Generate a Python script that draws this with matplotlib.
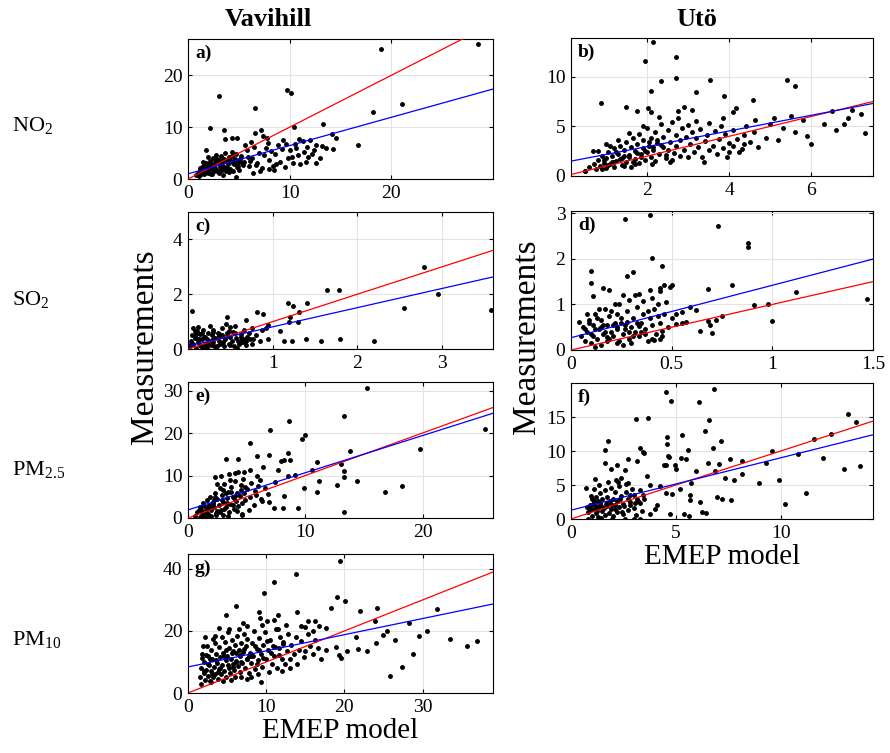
import numpy as np
import matplotlib
matplotlib.use('Agg')
import matplotlib.pyplot as plt

plt.rcParams['font.family'] = ['Liberation Serif', 'DejaVu Serif']
plt.rcParams['mathtext.default'] = 'regular'
plt.rcParams['xtick.direction'] = 'in'
plt.rcParams['ytick.direction'] = 'in'
plt.rcParams['xtick.top'] = True
plt.rcParams['ytick.right'] = True

# ---------------- data (EMEP model vs measurements) ----------------
# a) NO2 Vavihill
a_x = [3.0, 6.6, 9.7, 10.1, 2.2, 3.5, 7.2, 6.6, 10.4, 13.3, 18.2, 14.2, 16.7, 14.6, 3.6, 4.3, 4.8, 7.4, 7.8,
       9.3, 10.9, 1.8, 10.5, 11.3, 12.0, 12.6, 12.6, 11.6, 11.8, 13.6, 14.3, 4.7, 8.0, 8.7, 10.2, 19.0, 28.5, 21.0,
       5.2, 5.5, 5.8, 6.0, 6.3, 6.5, 6.8, 7.0, 7.3, 7.5, 7.7, 8.0, 8.2, 8.4, 8.6, 8.9, 9.0, 9.2, 9.5, 9.8,
       10.0, 10.3, 10.6, 10.8, 11.0, 11.4, 11.7, 12.2, 12.4, 13.0, 13.2, 9.6, 7.9, 6.2, 5.6, 8.5, 7.1, 6.4,
       0.8, 1.0, 1.1, 1.2, 1.3, 1.4, 1.5, 1.6, 1.7, 1.8, 1.9, 2.0, 2.1, 2.2, 2.3, 2.4, 2.5, 2.6, 2.7, 2.8,
       2.9, 3.0, 3.1, 3.2, 3.3, 3.4, 3.5, 3.6, 3.7, 3.8, 3.9, 4.0, 4.1, 4.2, 4.3, 4.4, 4.5, 4.6, 4.7, 4.8,
       4.9, 5.0, 1.5, 2.0, 2.8, 3.4, 2.4, 1.9, 3.0, 2.2, 3.8, 4.4, 1.3, 2.6, 3.2, 4.0, 2.0, 3.5, 1.6, 2.9,
       1.2, 1.7, 2.3, 2.7, 3.3, 3.9, 4.5, 5.1, 5.4, 5.9, 1.4, 1.9, 2.5, 3.1, 3.7, 4.3, 4.9, 5.3, 6.1, 6.7]
a_y = [16.0, 13.7, 17.1, 16.5, 9.8, 9.4, 9.4, 8.8, 10.1, 10.6, 12.9, 8.6, 6.6, 7.9, 7.8, 8.0, 8.0, 8.3, 8.0,
       7.6, 7.8, 5.5, 6.7, 7.3, 7.6, 6.5, 3.1, 3.3, 4.2, 5.9, 5.8, 0.4, 2.0, 2.9, 4.3, 25.0, 26.0, 14.5,
       4.5, 3.2, 5.6, 2.5, 4.0, 6.2, 3.0, 5.0, 2.2, 4.6, 6.0, 3.6, 5.4, 2.6, 4.8, 6.5, 3.2, 5.8, 2.4, 4.0,
       5.5, 3.0, 6.0, 4.6, 2.8, 5.2, 6.2, 4.8, 5.6, 4.0, 6.4, 6.8, 7.0, 7.2, 6.6, 1.8, 1.6, 1.2,
       0.8, 1.2, 0.6, 1.8, 1.0, 2.4, 1.5, 0.9, 2.0, 3.0, 1.3, 2.6, 1.8, 3.4, 0.9, 2.2, 4.0, 1.5, 3.0, 2.0,
       3.8, 1.2, 2.6, 4.4, 1.8, 3.2, 2.4, 5.0, 1.5, 3.6, 2.8, 4.2, 2.0, 3.4, 5.2, 1.6, 2.8, 3.9, 4.8, 2.3,
       3.3, 1.8, 3.2, 4.2, 4.6, 0.8, 1.0, 2.2, 3.3, 2.8, 2.2, 3.0, 1.4, 2.4, 2.0, 1.4, 1.2, 3.9, 2.8, 1.6,
       2.2, 1.4, 2.9, 3.6, 2.6, 1.9, 3.5, 3.9, 2.7, 4.3, 1.1, 2.7, 1.9, 3.6, 2.2, 4.5, 2.6, 3.1, 3.5, 2.7]

# b) NO2 Uto
b_x = [2.15, 2.7, 1.95, 2.7, 2.35, 3.53, 2.1, 3.2, 3.87, 0.88, 4.58, 1.5, 1.75, 2.03, 2.1, 2.76, 2.9, 3.1,
       4.17, 4.1, 3.85, 4.62, 0.69, 3.94, 3.39, 2.13, 2.55, 0.49, 4.09, 4.23, 4.35,
       5.4, 5.6, 6.5, 7.2, 6.9, 5.8, 5.0, 5.3, 5.6, 6.0, 7.3, 6.3, 5.9, 6.8, 5.2, 4.9, 6.6, 5.5, 7.0, 5.1,
       0.5, 0.6, 0.7, 0.75, 0.8, 0.85, 0.9, 0.95, 1.0, 1.0, 1.05, 1.1, 1.15, 1.2, 1.2, 1.25, 1.3, 1.35,
       1.4, 1.4, 1.45, 1.5, 1.5, 1.55, 1.6, 1.6, 1.65, 1.7, 1.7, 1.75, 1.8, 1.8, 1.85, 1.9, 1.9, 1.95,
       2.0, 2.0, 2.05, 2.1, 2.1, 2.15, 2.2, 2.2, 2.25, 2.3, 2.35, 2.4, 2.4, 2.45, 2.5, 2.5, 2.55, 2.6,
       2.6, 2.65, 2.7, 2.7, 2.75, 2.8, 2.8, 2.85, 2.9, 2.95, 3.0, 3.0, 3.05, 3.1, 3.15, 3.2, 3.2, 3.25,
       3.3, 3.35, 3.4, 3.45, 3.5, 3.5, 3.6, 3.65, 3.7, 3.75, 3.8, 3.85, 3.9, 4.0, 4.0, 4.1, 4.2, 4.3,
       4.35, 4.4, 4.5, 4.6, 4.7, 1.1, 1.3, 1.55, 0.9, 1.2, 1.45, 1.7, 0.8, 1.0, 2.3, 1.9,
       0.95, 1.15, 1.35, 1.55, 1.75, 1.95, 2.15, 2.35, 1.05, 1.25, 1.45, 1.65, 1.85, 2.05, 2.25, 2.45]
b_y = [13.5, 12.0, 11.6, 9.9, 9.6, 9.7, 8.6, 8.5, 8.1, 7.4, 7.7, 6.9, 6.5, 6.8, 6.4, 6.5, 6.9, 6.6,
       6.8, 6.4, 5.8, 5.6, 2.5, 1.95, 1.38, 1.2, 1.44, 0.55, 3.03, 2.46, 3.2,
       9.7, 9.1, 6.5, 6.2, 5.8, 5.6, 5.2, 4.8, 4.4, 3.2, 4.3, 5.2, 4.0, 5.2, 3.6, 3.8, 4.6, 6.0, 6.6, 5.8,
       0.5, 0.9, 1.2, 0.7, 1.6, 1.0, 2.0, 1.3, 0.8, 1.8, 2.4, 1.2, 2.0, 0.9, 2.8, 1.5, 2.2, 3.0,
       1.1, 1.8, 2.6, 3.4, 1.4, 2.1, 2.9, 0.9, 3.8, 1.7, 2.5, 3.2, 1.3, 4.2, 2.2, 2.8, 3.6, 1.6,
       2.4, 4.8, 3.0, 1.9, 3.8, 2.6, 4.4, 1.5, 3.3, 2.2, 5.2, 2.9, 3.9, 1.8, 4.6, 2.6, 3.4, 1.6,
       5.4, 2.3, 4.1, 3.0, 5.8, 2.0, 3.6, 4.8, 2.6, 3.9, 1.9, 5.1, 3.2, 4.4, 2.4, 3.8, 5.5, 2.9,
       4.7, 1.9, 3.5, 4.1, 2.6, 5.3, 3.0, 4.5, 2.2, 3.7, 5.0, 2.8, 4.2, 3.3, 2.4, 4.6, 3.7, 2.7,
       4.1, 5.0, 3.4, 4.4, 2.9, 3.0, 3.6, 4.3, 0.7, 1.4, 1.0, 1.2, 2.5, 3.2, 5.9, 5.0,
       1.6, 1.4, 1.7, 1.9, 2.3, 2.5, 2.9, 3.1, 1.1, 2.4, 2.0, 1.4, 1.9, 3.4, 3.6, 2.1]

# c) SO2 Vavihill
c_x = [0.05, 1.64, 1.78, 1.18, 1.24, 1.41, 1.31, 1.2, 1.3, 1.19, 0.81, 0.89, 0.46, 0.69, 0.75, 0.87, 0.95,
       0.92, 1.08, 0.73, 0.67, 0.77, 0.95, 1.13, 1.23, 1.39, 1.57, 1.79, 2.2, 0.65, 2.78, 2.95, 3.58, 2.55,
       0.02, 0.04, 0.05, 0.06, 0.08, 0.1, 0.1, 0.12, 0.14, 0.15, 0.16, 0.18, 0.2, 0.2, 0.22, 0.24, 0.25,
       0.27, 0.28, 0.3, 0.3, 0.32, 0.34, 0.35, 0.36, 0.38, 0.4, 0.4, 0.42, 0.44, 0.46, 0.48, 0.5, 0.5,
       0.52, 0.54, 0.55, 0.57, 0.6, 0.62, 0.64, 0.66, 0.68, 0.7, 0.72, 0.56, 0.45, 0.06, 0.12, 0.26,
       0.33, 0.18, 0.08, 0.58, 0.5, 0.42, 0.36, 0.28, 0.14, 0.22, 0.62, 0.48, 0.75, 0.8, 0.85,
       0.03, 0.09, 0.13, 0.19, 0.23, 0.29, 0.31, 0.37, 0.41, 0.47, 0.53, 0.59, 0.63, 0.69, 0.11, 0.17]
c_y = [1.37, 2.17, 2.17, 1.67, 1.57, 1.67, 1.36, 1.18, 0.98, 0.98, 1.36, 1.28, 1.18, 1.06, 0.78, 0.69, 0.88,
       0.78, 0.67, 0.36, 0.36, 0.36, 0.36, 0.29, 0.29, 0.36, 0.29, 0.36, 0.29, 0.27, 3.0, 2.0, 1.42, 1.5,
       0.1, 0.3, 0.5, 0.2, 0.65, 0.05, 0.4, 0.25, 0.55, 0.1, 0.35, 0.7, 0.2, 0.45, 0.05, 0.6, 0.3,
       0.15, 0.5, 0.7, 0.25, 0.4, 0.1, 0.6, 0.3, 0.2, 0.5, 0.75, 0.1, 0.35, 0.6, 0.2, 0.45, 0.8,
       0.3, 0.1, 0.6, 0.4, 0.2, 0.55, 0.35, 0.7, 0.15, 0.45, 0.6, 0.85, 0.9, 0.75, 0.8, 0.85,
       0.02, 0.02, 0.4, 0.05, 0.15, 0.42, 0.48, 0.32, 0.15, 0.38, 0.25, 0.65, 0.2, 0.5, 0.3,
       0.2, 0.55, 0.35, 0.45, 0.15, 0.62, 0.12, 0.55, 0.25, 0.48, 0.62, 0.28, 0.42, 0.3, 0.65, 0.6]

# d) SO2 Uto
d_x = [0.27, 0.39, 0.73, 0.88, 0.88, 0.40, 0.45, 0.1, 0.10, 0.31, 0.28, 0.16, 0.19, 0.11, 0.49, 0.5, 0.46,
       0.44, 0.68, 0.8, 0.91, 0.26, 0.34, 0.39, 0.59, 0.62, 0.55, 0.52, 0.57, 0.75, 0.72, 0.68, 0.69, 0.70,
       0.64, 0.55, 0.52, 0.45, 0.41, 0.44, 0.04, 0.23, 0.12, 1.12, 1.0, 1.47, 0.98,
       0.05, 0.06, 0.07, 0.08, 0.09, 0.1, 0.1, 0.11, 0.12, 0.13, 0.14, 0.15, 0.15, 0.16, 0.17, 0.18,
       0.18, 0.19, 0.2, 0.21, 0.22, 0.22, 0.23, 0.24, 0.25, 0.26, 0.27, 0.28, 0.29, 0.3, 0.31, 0.32,
       0.33, 0.34, 0.35, 0.36, 0.37, 0.38, 0.39, 0.4, 0.41, 0.42, 0.43, 0.44, 0.46, 0.48, 0.5, 0.47,
       0.36, 0.29, 0.24, 0.14, 0.08, 0.2, 0.3, 0.4, 0.45, 0.26, 0.12, 0.16, 0.28, 0.34, 0.18, 0.23,
       0.38, 0.43, 0.32, 0.4, 0.44,
       0.07, 0.11, 0.15, 0.19, 0.23, 0.27, 0.31, 0.35, 0.09, 0.13, 0.17, 0.21, 0.25, 0.29, 0.33, 0.37]
d_y = [2.87, 2.96, 2.71, 2.34, 2.26, 2.02, 1.84, 1.74, 1.48, 1.71, 1.62, 1.37, 1.31, 1.18, 1.39, 1.43, 1.42,
       1.37, 1.33, 1.42, 0.98, 1.21, 1.23, 1.32, 0.94, 0.88, 0.84, 0.79, 0.61, 0.74, 0.66, 0.64, 0.54, 0.37,
       0.42, 0.59, 0.56, 0.42, 0.21, 0.25, 0.61, 0.15, 0.07, 1.28, 0.63, 1.13, 1.0,
       0.3, 0.5, 0.2, 0.4, 0.65, 0.15, 0.35, 0.55, 0.8, 0.25, 0.45, 0.1, 0.65, 0.35, 0.9, 0.2,
       0.55, 0.75, 0.4, 0.3, 0.6, 1.0, 0.45, 0.2, 0.7, 0.35, 0.55, 0.85, 0.25, 0.5, 0.7, 0.4,
       0.95, 0.3, 0.6, 0.8, 0.45, 0.2, 0.7, 0.55, 0.9, 0.35, 0.75, 0.6, 0.8, 0.5, 0.7, 1.05,
       1.08, 1.1, 1.0, 0.9, 0.8, 0.85, 0.15, 0.25, 0.3, 0.1, 0.45, 0.55, 0.62, 0.52, 0.28, 0.78,
       0.85, 1.0, 1.2, 1.15, 1.3,
       0.45, 0.3, 0.5, 0.25, 0.5, 0.45, 0.3, 0.4, 0.6, 0.7, 0.4, 0.55, 0.6, 0.4, 0.6, 0.35]

# e) PM2.5 Vavihill
e_x = [15.3, 13.3, 8.6, 7.0, 10.0, 9.7, 5.3, 13.8, 3.25, 4.3, 5.9, 6.9, 8.5, 8.2, 8.7, 7.9, 11.0, 13.0,
       6.4, 7.7, 10.6, 13.3, 5.3, 4.8, 4.3, 3.5, 2.8, 2.3, 5.9, 8.5, 9.1, 11.2, 12.7, 14.4, 13.3, 9.9,
       11.0, 8.2, 6.9, 7.3, 8.1, 9.4, 13.3, 4.6, 6.2, 6.6, 6.1, 19.8, 25.3, 18.2, 16.8,
       0.6, 0.8, 1.0, 1.0, 1.2, 1.3, 1.4, 1.5, 1.6, 1.7, 1.8, 1.9, 2.0, 2.0, 2.1, 2.2, 2.3, 2.4, 2.5,
       2.6, 2.7, 2.8, 2.9, 3.0, 3.0, 3.1, 3.2, 3.3, 3.4, 3.5, 3.6, 3.7, 3.8, 3.9, 4.0, 4.1, 4.2, 4.3,
       4.4, 4.5, 4.6, 4.7, 4.8, 4.9, 5.0, 5.2, 5.4, 5.6, 5.8, 6.0, 1.1, 1.6, 2.4, 3.4, 2.2, 1.4, 3.0,
       4.2, 3.8, 2.7, 1.9, 3.2, 4.6, 2.5, 3.6, 4.0,
       0.9, 1.3, 1.7, 2.1, 2.5, 2.9, 3.3, 3.7, 4.1, 4.5, 4.9, 5.3, 5.7, 6.3, 6.8, 7.4, 1.5, 2.3, 3.1, 3.9]
e_y = [30.5, 24.0, 22.8, 20.7, 19.5, 18.7, 17.7, 15.8, 13.8, 14.0, 14.7, 14.9, 15.2, 13.7, 13.7, 13.3, 13.1,
       12.7, 11.9, 11.4, 11.4, 11.1, 11.3, 10.9, 10.9, 10.4, 10.0, 9.6, 10.0, 9.8, 10.2, 8.6, 7.8, 8.6, 9.6,
       7.0, 6.2, 5.2, 3.7, 2.4, 2.4, 2.4, 1.5, 0.6, 4.5, 7.0, 9.0, 16.3, 21.0, 7.6, 6.2,
       0.5, 1.5, 0.3, 2.5, 1.2, 3.5, 0.8, 2.0, 4.2, 1.0, 3.0, 5.0, 1.8, 0.4, 3.8, 2.5, 6.0, 1.2, 4.5,
       3.0, 7.0, 2.0, 5.4, 0.8, 3.8, 8.0, 2.6, 4.8, 6.2, 1.5, 3.4, 7.4, 5.0, 2.2, 8.8, 4.0, 6.0, 2.8,
       5.2, 7.8, 3.6, 9.2, 5.8, 4.2, 6.8, 2.0, 8.2, 3.0, 5.5, 7.5, 1.8, 0.2, 0.6, 0.4, 4.2, 2.8, 6.6,
       1.6, 3.0, 1.4, 2.4, 5.8, 1.0, 8.0, 9.0, 10.5,
       2.0, 0.6, 2.6, 3.2, 1.6, 4.2, 3.6, 6.2, 5.4, 6.6, 7.2, 5.0, 6.4, 4.0, 5.6, 8.4, 1.2, 5.0, 2.2, 4.6]

# f) PM2.5 Uto
f_x = [6.8, 4.55, 4.75, 6.1, 3.1, 3.65, 6.57, 6.4, 5.27, 4.6, 1.78, 4.59, 1.6, 3.29, 3.44, 3.5, 6.75, 7.14,
       5.6, 2.73, 3.13, 4.64, 4.67, 5.24, 5.48, 1.6, 2.2, 2.57, 1.9, 4.43, 4.52, 4.95, 5.03, 5.98, 6.51,
       7.06, 7.6, 8.16, 6.89, 7.32, 7.79, 8.17, 8.95, 2.37, 2.25, 2.73, 3.6, 0.71, 1.14, 3.76, 4.24, 4.52,
       4.8, 5.2, 5.7, 5.67, 5.67, 6.14, 6.27, 6.43, 6.94, 7.22, 7.65, 5.38, 5.63, 4.71, 4.0, 4.08, 3.79,
       3.29, 3.13, 2.81, 3.44, 2.57, 3.0, 1.94, 0.83, 3.29,
       13.2, 13.6, 12.4, 11.6, 13.0, 13.8, 10.8, 9.6, 9.9, 11.2, 10.2, 12.0, 9.3,
       0.8, 0.9, 1.0, 1.0, 1.1, 1.2, 1.2, 1.3, 1.3, 1.4, 1.4, 1.5, 1.5, 1.6, 1.6, 1.7, 1.7, 1.8, 1.8,
       1.9, 1.9, 2.0, 2.0, 2.1, 2.1, 2.2, 2.2, 2.3, 2.3, 2.4, 2.5, 2.5, 2.6, 2.7, 2.7, 2.8, 2.9, 3.0,
       3.0, 3.1, 3.2, 3.3, 3.4, 3.5, 1.1, 0.95, 1.35, 1.75, 2.15, 2.6, 0.85, 1.45, 1.05, 1.65, 2.45, 1.25,
       0.75, 0.9, 1.15, 1.3, 1.55, 1.7, 1.95, 2.1, 2.35, 2.55, 2.8, 3.05, 1.0, 1.2, 1.45, 1.85]
f_y = [19.1, 18.7, 17.3, 17.2, 14.7, 14.8, 14.5, 12.9, 12.3, 12.1, 11.4, 11.0, 10.2, 10.5, 9.8, 9.7, 10.5, 11.4,
       10.2, 8.8, 8.5, 9.3, 9.1, 8.9, 8.8, 8.2, 8.0, 7.2, 7.3, 7.9, 8.0, 7.9, 7.4, 7.1, 8.2,
       8.1, 8.8, 8.5, 7.1, 6.0, 5.7, 6.6, 5.3, 6.1, 5.5, 5.3, 6.3, 4.6, 5.9, 5.0, 4.9, 3.8,
       3.7, 4.4, 5.3, 3.6, 2.8, 2.5, 1.0, 0.9, 3.3, 3.0, 2.8, 0.7, 0.5, 0.7, 1.5, 2.1, 0.8,
       2.3, 3.0, 2.5, 3.5, 0.0, 0.0, 0.0, 0.0, 0.05,
       15.5, 14.2, 12.5, 11.7, 7.3, 7.8, 9.6, 10.0, 5.7, 3.8, 2.2, 9.0, 8.2,
       1.0, 2.0, 0.5, 1.5, 2.6, 0.9, 3.2, 1.8, 0.3, 2.4, 3.8, 1.2, 2.9, 0.6, 4.2, 1.9, 3.3, 0.9, 2.5,
       4.5, 1.4, 3.0, 0.4, 2.0, 3.9, 1.1, 2.7, 4.8, 1.7, 3.4, 0.7, 2.2, 4.0, 1.3, 3.0, 2.0, 4.4, 1.6,
       3.5, 0.6, 2.6, 4.2, 1.2, 3.0, 4.4, 3.4, 5.0, 5.4, 5.8, 5.2, 1.6, 0.2, 2.2, 2.2, 1.0, 1.2,
       1.8, 1.4, 2.0, 2.7, 1.6, 2.4, 2.1, 1.5, 2.9, 1.9, 3.6, 2.3, 2.9, 1.6, 1.9, 2.6]

# g) PM10 Vavihill
g_x = [19.4, 13.8, 10.95, 9.7, 19.1, 20.1, 6.2, 18.3, 21.95, 24.2, 9.1, 4.9, 14.0, 11.5, 9.2, 10.1, 23.9,
       15.3, 16.2, 16.7, 17.7, 7.6, 5.2, 11.5, 15.0, 3.2, 21.5, 24.9, 20.3, 21.8, 22.9, 24.0, 19.3, 19.5,
       18.9, 17.7, 9.35, 1.6, 1.9, 1.8, 2.3, 6.8, 7.6,
       28.2, 31.8, 30.5, 33.5, 37.0, 35.7, 28.8, 27.3, 25.8, 26.5, 25.5, 29.5,
       1.5, 1.7, 2.0, 2.0, 2.2, 2.3, 2.5, 2.6, 2.7, 2.8, 2.9, 3.0, 3.1, 3.2, 3.3, 3.4, 3.5, 3.6, 3.7,
       3.8, 3.9, 4.0, 4.1, 4.2, 4.3, 4.4, 4.5, 4.6, 4.7, 4.8, 4.9, 5.0, 5.1, 5.2, 5.3, 5.4, 5.5, 5.6,
       5.7, 5.8, 5.9, 6.0, 6.1, 6.2, 6.3, 6.4, 6.5, 6.6, 6.7, 6.8, 6.9, 7.0, 7.2, 7.3, 7.4, 7.5, 7.6,
       7.8, 7.9, 8.0, 8.2, 8.3, 8.5, 8.6, 8.8, 9.0, 9.1, 9.3, 9.5, 9.6, 9.8, 10.0, 10.2, 10.4, 10.5,
       10.7, 10.9, 11.0, 11.2, 11.4, 11.6, 11.8, 12.0, 12.2, 12.4, 12.6, 12.8, 13.0, 13.2, 13.5, 13.8,
       14.0, 14.2, 14.5, 14.8, 15.0, 15.3, 15.6, 16.0, 16.3, 16.6, 17.0, 2.4, 3.0, 1.8, 4.5, 5.5, 6.0,
       8.0, 9.0, 12.0, 13.0, 3.5, 2.2, 4.0, 6.5, 7.0, 9.5, 11.0, 12.5, 14.5, 16.0,
       2.1, 2.6, 3.1, 3.6, 4.1, 4.6, 5.1, 5.6, 6.1, 6.6, 7.1, 7.6, 8.1, 8.6, 9.1, 9.6, 10.1, 10.6,
       11.1, 11.6, 12.1, 2.8, 3.8, 4.8, 5.8, 6.8, 7.8, 8.8]
g_y = [42.7, 38.4, 35.9, 32.1, 31.1, 29.5, 28.1, 27.3, 26.5, 27.3, 26.0, 25.2, 26.2, 25.2, 24.1, 23.2, 23.2,
       23.2, 23.2, 21.6, 21.1, 21.7, 20.7, 20.7, 21.2, 17.3, 18.2, 18.7, 13.5, 14.3, 13.5, 16.2, 12.2, 11.2,
       14.7, 13.9, 3.6, 3.0, 15.2, 11.2, 12.3, 5.2, 4.6,
       22.5, 27.0, 20.0, 17.5, 16.8, 15.0, 12.5, 8.5, 5.5, 17.0, 20.0, 18.5,
       5.0, 8.0, 6.5, 10.0, 4.2, 7.5, 12.0, 5.5, 9.0, 3.8, 14.0, 7.0, 11.0, 5.0, 8.5, 16.0, 6.0, 12.5, 9.8,
       4.5, 7.8, 14.8, 11.5, 6.2, 18.0, 9.0, 13.0, 7.0, 16.5, 10.5, 5.2, 12.0, 19.5, 8.2, 14.5, 6.5, 11.0, 17.0,
       9.5, 13.5, 7.5, 15.5, 10.2, 12.8, 18.5, 8.8, 14.0, 6.8, 11.8, 16.2, 9.6, 13.2, 19.0, 8.0, 15.0, 11.0, 17.5,
       6.5, 13.0, 9.8, 16.0, 11.8, 20.0, 7.8, 14.2, 10.5, 17.8, 12.5, 8.5, 15.5, 19.5, 11.0, 13.8, 6.8, 17.0,
       9.5, 15.0, 12.0, 20.5, 8.0, 14.5, 18.0, 11.0, 16.5, 9.5, 13.5, 19.0, 10.8, 15.5, 12.5, 18.0,
       9.5, 14.0, 16.8, 11.5, 13.5, 19.0, 15.0, 12.5, 17.0, 14.5, 11.0, 15.0, 3.5, 12.5, 3.8, 4.2, 5.0,
       5.2, 6.0, 7.0, 8.0, 18.5, 18.0, 21.0, 20.5, 22.5, 22.0, 23.5, 22.0, 21.5, 20.0,
       7.0, 9.5, 6.2, 10.5, 8.0, 11.8, 9.0, 13.0, 10.0, 12.2, 14.2, 10.8, 12.0, 15.0, 13.8, 11.2, 16.8, 13.0,
       14.8, 12.2, 15.8, 11.0, 6.8, 14.0, 8.5, 10.0, 12.0, 9.2]

# fitted lines (intercept, slope)
fits = {'a': (1.0, 0.545), 'b': (1.38, 0.79), 'c': (0.11, 0.70), 'd': (0.27, 1.15),
        'e': (1.9, 0.875), 'f': (1.3, 0.77), 'g': (8.4, 0.52)}

W, H = 890, 753
fig = plt.figure(figsize=(W / 100, H / 100), dpi=100)


def px_axes(l, t, r, b):
    return fig.add_axes([l / W, 1 - b / H, (r - l) / W, (b - t) / H])


panels = [
    # name, data, rect(px), xlim, ylim, xticks, yticks
    ('a', a_x, a_y, (188, 39, 493, 179), (0, 30), (0, 27), [0, 10, 20], [0, 10, 20]),
    ('b', b_x, b_y, (571, 38, 873, 176), (0.15, 7.5), (0, 13.9), [2, 4, 6], [0, 5, 10]),
    ('c', c_x, c_y, (188, 212, 493, 349), (0, 3.6), (0, 5.0), [1, 2, 3], [0, 2, 4]),
    ('d', d_x, d_y, (571, 211, 873, 350), (0, 1.5), (0, 3.05), [0, 0.5, 1, 1.5], [0, 1, 2, 3]),
    ('e', e_x, e_y, (188, 382, 493, 518), (0, 26), (0, 32), [0, 10, 20], [0, 10, 20, 30]),
    ('f', f_x, f_y, (571, 383, 873, 519), (0, 14.4), (0, 20), [0, 5, 10], [0, 5, 10, 15]),
    ('g', g_x, g_y, (188, 554, 493, 693), (0, 39), (0, 44.8), [0, 10, 20, 30], [0, 20, 40]),
]

for name, xs, ys, rect, xl, yl, xt, yt in panels:
    ax = px_axes(*rect)
    ax.grid(True, color='#e3e3e3', lw=0.8)
    ax.set_axisbelow(True)
    ax.plot(xs, ys, 'k.', ms=5, zorder=3)
    xx = np.array(xl)
    ax.plot(xx, xx, color='red', lw=0.9, zorder=4)
    b0, b1 = fits[name]
    ax.plot(xx, b0 + b1 * xx, color='blue', lw=0.9, zorder=4)
    ax.set_xlim(xl)
    ax.set_ylim(yl)
    ax.set_xticks(xt)
    ax.set_yticks(yt)
    ax.set_xticklabels([('%g' % v) for v in xt])
    ax.tick_params(labelsize=14, length=3, width=0.8, pad=4)
    for s in ax.spines.values():
        s.set_linewidth(0.8)
    ax.annotate(name + ')', xy=(0, 1), xycoords='axes fraction', xytext=(5, -4),
                textcoords='offset points', ha='left', va='top', fontsize=14, fontweight='bold')
    if name in ('f', 'g'):
        ax.set_xlabel('EMEP model', fontsize=21, labelpad=2)

# shared y labels
fig.text(145 / W, 1 - 347 / H, 'Measurements', rotation=90, ha='center', va='center', fontsize=24)
fig.text(527 / W, 1 - 337 / H, 'Measurements', rotation=90, ha='center', va='center', fontsize=24)

# column titles and row labels
fig.text(268 / W, 1 - 20 / H, 'Vavihill', ha='center', va='center', fontsize=19, fontweight='bold')
fig.text(697 / W, 1 - 20 / H, 'Utö', ha='center', va='center', fontsize=19, fontweight='bold')
rows = ['NO$_2$', 'SO$_2$', 'PM$_{2.5}$', 'PM$_{10}$']
row_y = [125, 300, 470, 640]
for lab, yy in zip(rows, row_y):
    fig.text(12 / W, 1 - yy / H, lab, ha='left', va='center', fontsize=16)

fig.savefig('out.png', dpi=100)
